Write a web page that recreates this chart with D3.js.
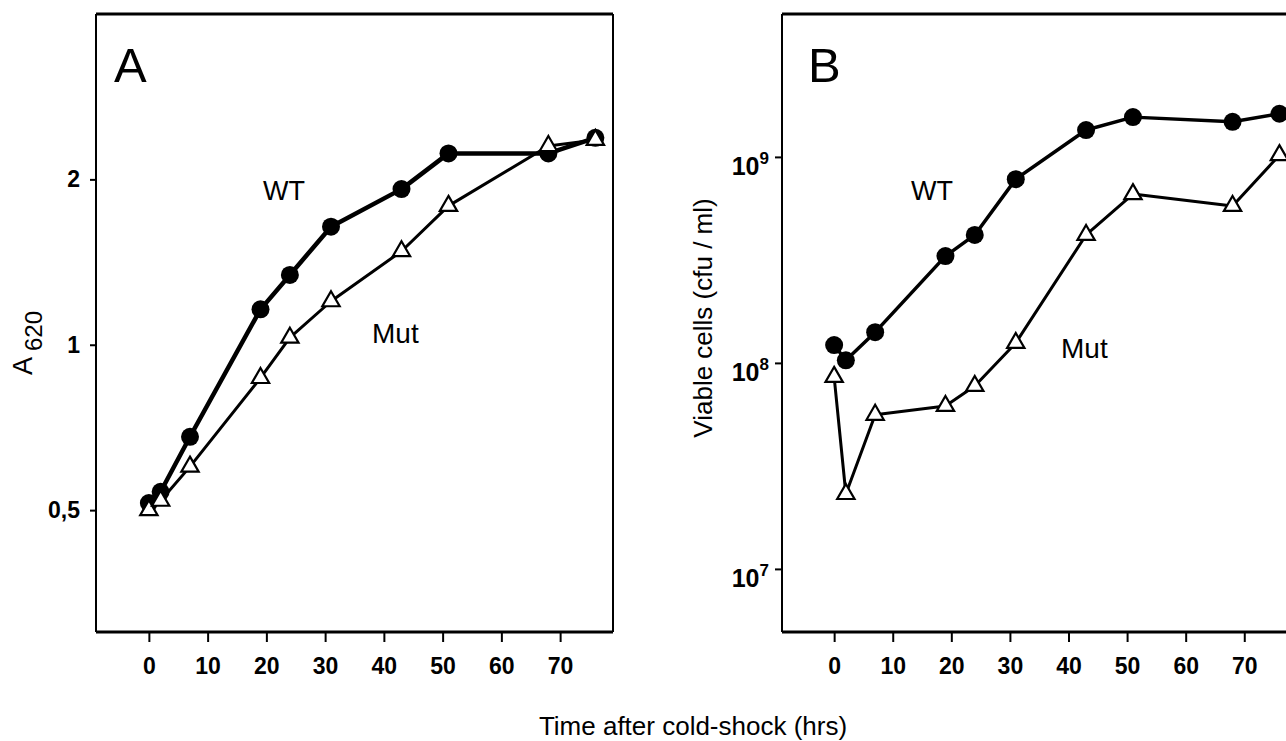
<!DOCTYPE html>
<html>
<head>
<meta charset="utf-8">
<script src="https://cdn.jsdelivr.net/npm/d3@7"></script>
<style>
body { margin: 0; background: #fff; }
svg { display: block; font-family: "Liberation Sans", Arial, sans-serif; }
</style>
</head>
<body>
<svg></svg>
<script>
// sampling times (hrs after cold-shock)
const hours = [0, 2, 7, 19, 24, 31, 43, 51, 68, 76];

// panel A: A620
const wtA = [0.515, 0.54, 0.68, 1.16, 1.34, 1.64, 1.92, 2.23, 2.23, 2.38];
const mutA = [0.50, 0.52, 0.60, 0.87, 1.03, 1.20, 1.48, 1.79, 2.30, 2.36];

// panel B: viable cells (cfu/ml)
const wtB = [1.22e8, 1.03e8, 1.41e8, 3.3e8, 4.18e8, 7.8e8, 1.35e9, 1.56e9, 1.48e9, 1.62e9];
const mutB = [8.55e7, 2.31e7, 5.6e7, 6.18e7, 7.73e7, 1.25e8, 4.18e8, 6.6e8, 5.78e8, 1.02e9];

const xTicks = [0, 10, 20, 30, 40, 50, 60, 70];
const yTicksA = [0.5, 1, 2];
const yLabelsA = ['0,5', '1', '2'];
const yTicksB = [1e7, 1e8, 1e9];
const yExpB = ['7', '8', '9'];

const WIDTH = 1286;
const HEIGHT = 741;
const FONT = '"Liberation Sans", Arial, sans-serif';

let svg = d3.select('svg').attr('width', WIDTH).attr('height', HEIGHT);

let xA = d3.scaleLinear().domain([-9, 79]).range([96, 613]);
let yA = d3.scaleLog().domain([0.3, 4]).range([632, 14]);
let xB = d3.scaleLinear().domain([-8.9, 79]).range([782, 1297]);
let yB = d3.scaleLog().domain([4.94e6, 4.94e9]).range([632, 14]);

function frame(x, y) {
    const [l, r] = x.range();
    const [b, t] = y.range();
    svg.append('line').attr('x1', l).attr('x2', r).attr('y1', t).attr('y2', t).attr('stroke', '#000').attr('stroke-width', 3);
    svg.append('line').attr('x1', l).attr('x2', r).attr('y1', b).attr('y2', b).attr('stroke', '#000').attr('stroke-width', 3);
    svg.append('line').attr('x1', l).attr('x2', l).attr('y1', t).attr('y2', b).attr('stroke', '#000').attr('stroke-width', 2);
    svg.append('line').attr('x1', r).attr('x2', r).attr('y1', t).attr('y2', b).attr('stroke', '#000').attr('stroke-width', 2);

    let ax = svg.append('g').attr('transform', `translate(0,${b})`)
        .call(d3.axisBottom(x).tickValues(xTicks).tickSize(10).tickPadding(16));
    ax.select('.domain').remove();
    ax.selectAll('line').attr('stroke-width', 2);
    ax.attr('font-family', FONT).attr('font-size', 23).attr('font-weight', 'bold');
}

function series(x, y, wt, mut, wtW, mutW) {
    let line = d3.line().x((d, i) => x(hours[i])).y(d => y(d));
    svg.append('path').datum(wt).attr('d', line).attr('fill', 'none')
        .attr('stroke', '#000').attr('stroke-width', wtW).attr('stroke-linejoin', 'round');
    svg.append('path').datum(mut).attr('d', line).attr('fill', 'none')
        .attr('stroke', '#000').attr('stroke-width', mutW).attr('stroke-linejoin', 'round');

    svg.append('g').selectAll('circle').data(wt).join('circle')
        .attr('cx', (d, i) => x(hours[i])).attr('cy', d => y(d)).attr('r', 9).style('fill', '#000');

    svg.append('g').selectAll('path').data(mut).join('path')
        .attr('d', d3.symbol(d3.symbolTriangle, 130))
        .attr('transform', (d, i) => `translate(${x(hours[i])},${y(d)})`)
        .style('fill', '#fff').style('stroke', '#000').style('stroke-width', 2.2);
}

// panel A
frame(xA, yA);
let axA = svg.append('g').attr('transform', 'translate(96,0)')
    .call(d3.axisLeft(yA).tickValues(yTicksA).tickFormat((d, i) => yLabelsA[i]).tickSize(6).tickPadding(10));
axA.select('.domain').remove();
axA.selectAll('line').attr('stroke-width', 2);
axA.attr('font-family', FONT).attr('font-size', 23).attr('font-weight', 'bold');
series(xA, yA, wtA, mutA, 4.5, 3);

// panel B
frame(xB, yB);
let axB = svg.append('g').attr('transform', 'translate(782,0)')
    .call(d3.axisLeft(yB).tickValues(yTicksB).tickFormat('').tickSize(7));
axB.select('.domain').remove();
axB.selectAll('line').attr('stroke-width', 2);
let tB = svg.append('g').selectAll('text').data(yTicksB).join('text')
    .attr('x', 769).attr('y', d => yB(d) + 18)
    .attr('text-anchor', 'end').attr('font-size', 25).attr('font-weight', 'bold');
tB.append('tspan').text('10');
tB.append('tspan').attr('dy', -11).attr('font-size', 17).text((d, i) => yExpB[i]);
series(xB, yB, wtB, mutB, 3.5, 3);

// panel letters and series labels
svg.append('text').attr('x', 114).attr('y', 82).attr('font-size', 49).text('A');
svg.append('text').attr('x', 808).attr('y', 82).attr('font-size', 49).text('B');
svg.append('text').attr('x', 263).attr('y', 200).attr('font-size', 27).text('WT');
svg.append('text').attr('x', 372).attr('y', 343).attr('font-size', 28).text('Mut');
svg.append('text').attr('x', 911).attr('y', 200).attr('font-size', 27).text('WT');
svg.append('text').attr('x', 1061).attr('y', 358).attr('font-size', 28).text('Mut');

// axis titles
let ta = svg.append('text').attr('transform', 'translate(32,375) rotate(-90)').attr('font-size', 27);
ta.append('tspan').text('A');
ta.append('tspan').attr('dx', 6).attr('dy', 10).attr('font-size', 24).text('620');

svg.append('text').attr('transform', 'translate(712,318) rotate(-90)')
    .attr('text-anchor', 'middle').attr('font-size', 26).text('Viable cells (cfu / ml)');

svg.append('text').attr('x', 693).attr('y', 735)
    .attr('text-anchor', 'middle').attr('font-size', 26).text('Time after cold-shock (hrs)');
</script>
</body>
</html>
